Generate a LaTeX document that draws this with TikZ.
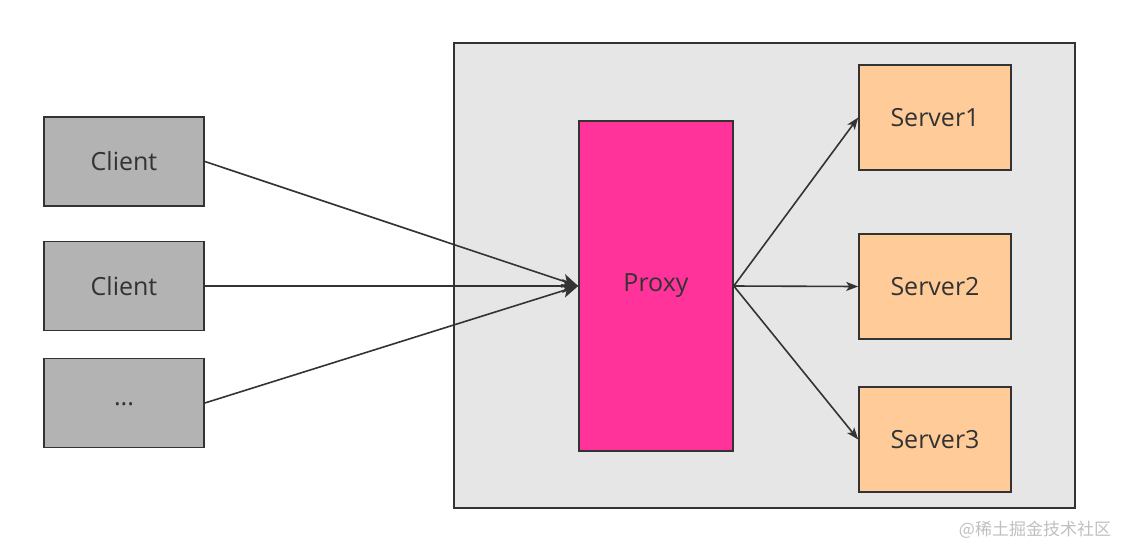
\documentclass[tikz,border=0pt]{standalone}
\usepackage{xcolor}
\usepackage{fontspec}
\setmainfont{Open Sans}
\newfontfamily\cjkfont{Noto Sans CJK SC}
\usetikzlibrary{arrows.meta,positioning}
\definecolor{edgegray}{HTML}{333333}
\definecolor{panelgray}{HTML}{E6E6E6}
\definecolor{clientgray}{HTML}{B3B3B3}
\definecolor{proxypink}{HTML}{FF3399}
\definecolor{serverorange}{HTML}{FFCC99}
\tikzset{
  panel/.style={rectangle, draw=edgegray, line width=2pt, fill=panelgray},
  client/.style={rectangle, draw=edgegray, line width=1.6pt, fill=clientgray,
    minimum width=160pt, minimum height=89pt, font=\fontsize{25}{30}\selectfont,
    text=edgegray, inner sep=0pt},
  proxy/.style={rectangle, draw=edgegray, line width=1.6pt, fill=proxypink,
    minimum width=154pt, minimum height=330pt, font=\fontsize{25}{30}\selectfont,
    text=edgegray, inner sep=0pt},
  server/.style={rectangle, draw=edgegray, line width=1.6pt, fill=serverorange,
    minimum width=152pt, minimum height=105pt, font=\fontsize{25}{30}\selectfont,
    text=edgegray, inner sep=0pt},
  tr/.style={-{Stealth[length=16pt, width=14pt, inset=4pt]}, draw=edgegray, line width=1.6pt},
  trs/.style={-{Stealth[length=12pt, width=9pt, inset=3pt]}, draw=edgegray, line width=1.6pt},
  watermark/.style={font=\cjkfont\fontsize{17}{20}\selectfont, text=black!25},
}
\begin{document}
\begin{tikzpicture}[x=1pt, y=-1pt]
  \useasboundingbox (0,0) rectangle (1122,547);
  \draw[panel] (454,43) rectangle (1075,508);
  % clients
  \node[client] (c1) at (124,161.5) {Client};
  \node[client] (c2) at (124,286) {Client};
  \node[client] (c3) at (124,403) {\raisebox{-6pt}{...}};
  % proxy and servers
  \node[proxy] (proxy) at (656,286) {Proxy};
  \node[server] (s1) at (935,117.5) {Server1};
  \node[server] (s2) at (935,286.5) {Server2};
  \node[server] (s3) at (935,439.5) {Server3};
  \draw[tr] (c1.east) -- (proxy.west);
  \draw[tr] (c2.east) -- (proxy.west);
  \draw[tr] (c3.east) -- (proxy.west);
  \draw[trs] (proxy.east) -- (s1.west);
  \draw[trs] (proxy.east) -- (s2.west);
  \draw[trs] (proxy.east) -- (s3.west);
  \node[watermark] (juejin) at (1035,530) {@稀土掘金技术社区};
\end{tikzpicture}
\end{document}
